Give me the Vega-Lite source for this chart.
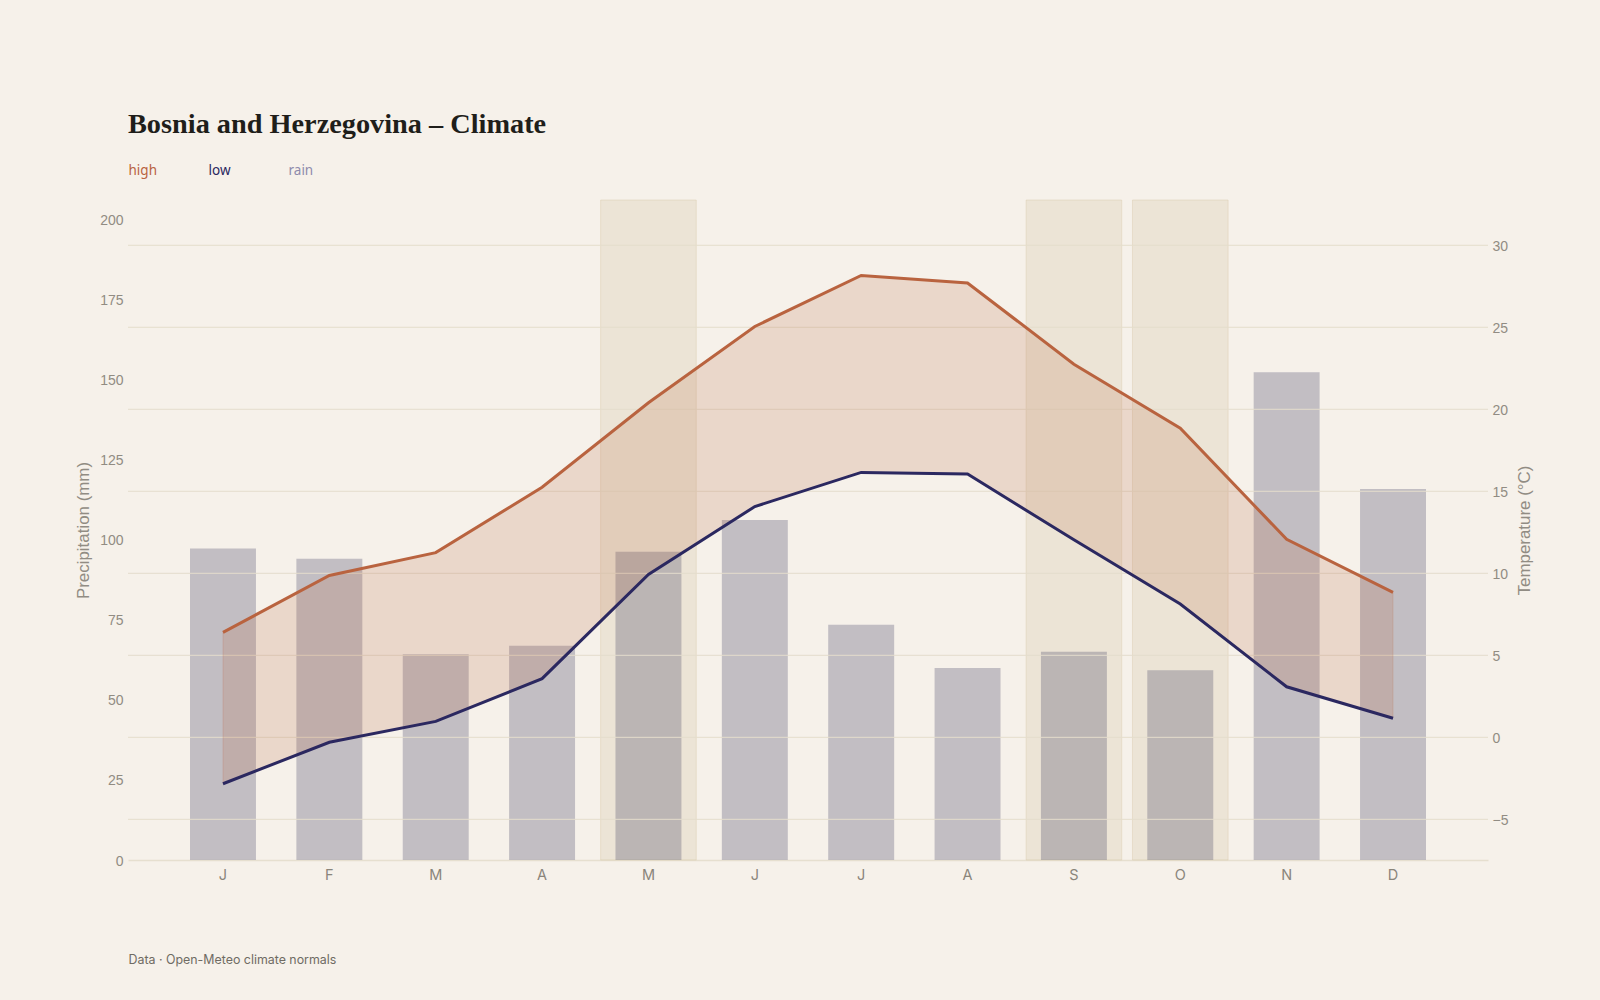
{
  "$schema": "https://vega.github.io/schema/vega-lite/v6.json",
  "width": 1360,
  "height": 660,
  "autosize": {"type": "none"},
  "padding": {"left": 128, "top": 200, "right": 112, "bottom": 140},
  "background": "#f6f1ea",
  "title": {
    "text": "Bosnia and Herzegovina – Climate",
    "anchor": "start",
    "frame": "group",
    "font": "Liberation Serif",
    "fontWeight": "bold",
    "fontSize": 28.3,
    "color": "#1f1e1a",
    "offset": 25
  },
  "config": {
    "view": {"stroke": null},
    "axis": {
      "grid": false,
      "ticks": false,
      "domain": false,
      "titleFontWeight": "normal"
    },
    "axisY": {
      "labelFont": "Liberation Sans",
      "labelFontSize": 14,
      "labelColor": "#918c83",
      "labelOffset": 1,
      "titleFont": "Liberation Sans",
      "titleFontSize": 16.9,
      "titleColor": "#918c83"
    }
  },
  "datasets": {
    "normals": [
      {"month": "Jan", "high": 6.4, "low": -2.83, "rain": 97.2, "shaded": false},
      {"month": "Feb", "high": 9.87, "low": -0.3, "rain": 94, "shaded": false},
      {"month": "Mar", "high": 11.26, "low": 0.97, "rain": 64.2, "shaded": false},
      {"month": "Apr", "high": 15.25, "low": 3.58, "rain": 66.9, "shaded": false},
      {"month": "May", "high": 20.4, "low": 9.93, "rain": 96.2, "shaded": true},
      {"month": "Jun", "high": 25.05, "low": 14.07, "rain": 106.1, "shaded": false},
      {"month": "Jul", "high": 28.16, "low": 16.15, "rain": 73.4, "shaded": false},
      {"month": "Aug", "high": 27.7, "low": 16.05, "rain": 59.9, "shaded": false},
      {"month": "Sep", "high": 22.75, "low": 12.04, "rain": 65, "shaded": true},
      {"month": "Oct", "high": 18.85, "low": 8.13, "rain": 59.2, "shaded": true},
      {"month": "Nov", "high": 12.07, "low": 3.08, "rain": 152.2, "shaded": false},
      {"month": "Dec", "high": 8.84, "low": 1.16, "rain": 115.8, "shaded": false}
    ],
    "gridlines": [
      {"temp": -5}, {"temp": 0}, {"temp": 5}, {"temp": 10},
      {"temp": 15}, {"temp": 20}, {"temp": 25}, {"temp": 30}
    ]
  },
  "data": {"name": "normals"},
  "layer": [
    {
      "encoding": {
        "x": {
          "field": "month",
          "type": "nominal",
          "sort": null,
          "scale": {
            "domain": ["Jan", "Feb", "Mar", "Apr", "May", "Jun", "Jul", "Aug", "Sep", "Oct", "Nov", "Dec"],
            "paddingInner": 0.38,
            "paddingOuter": 0.583
          },
          "axis": {
            "title": "Data · Open-Meteo climate normals",
            "titleAnchor": "start",
            "titleFont": "Inter",
            "titleFontSize": 12.4,
            "titleColor": "#6f6b63",
            "titlePadding": 72,
            "labelExpr": "slice(datum.value, 0, 1)",
            "labelAngle": 0,
            "labelFont": "Inter",
            "labelFontSize": 14.5,
            "labelColor": "#8a857b",
            "labelPadding": 8,
            "domain": true,
            "domainColor": "#e6dfcf",
            "domainWidth": 1.5
          }
        }
      },
      "layer": [
        {
          "transform": [{"filter": "datum.shaded"}],
          "mark": {
            "type": "bar",
            "width": {"band": 1.45},
            "fill": "#d5c6aa",
            "fillOpacity": 0.3,
            "stroke": "#d9c9a8",
            "strokeOpacity": 0.4
          }
        },
        {
          "mark": {"type": "bar", "opacity": 0.25},
          "encoding": {
            "y": {
              "field": "rain",
              "type": "quantitative",
              "scale": {"domain": [0, 206], "nice": false},
              "axis": {
                "title": "Precipitation (mm)",
                "values": [0, 25, 50, 75, 100, 125, 150, 175, 200],
                "labelPadding": 5,
                "titlePadding": 7
              }
            },
            "color": {
              "datum": "rain",
              "scale": {
                "domain": ["high", "low", "rain"],
                "range": ["#b9633f", "#2b2860", "#29294f"]
              },
              "legend": {
                "title": null,
                "orient": "none",
                "legendX": -13,
                "legendY": -36,
                "direction": "horizontal",
                "columns": 3,
                "gridAlign": "all",
                "columnPadding": 38,
                "padding": 0,
                "symbolSize": 0,
                "symbolStrokeWidth": 0,
                "symbolOpacity": 0,
                "labelOffset": 0,
                "labelFont": "Noto Sans",
                "labelFontSize": 13.5,
                "encode": {
                  "labels": {
                    "update": {
                      "fill": {"signal": "datum.value === 'rain' ? '#8e8bac' : scale('color', datum.value)"}
                    }
                  }
                }
              }
            }
          }
        }
      ]
    },
    {
      "layer": [
        {
          "data": {"name": "gridlines"},
          "mark": {"type": "rule", "color": "#e4ddcc", "strokeWidth": 1},
          "encoding": {
            "y": {
              "field": "temp",
              "type": "quantitative",
              "scale": {"domain": [-7.48, 32.76], "nice": false},
              "axis": {
                "title": "Temperature (°C)",
                "titleAngle": 270,
                "values": [-5, 0, 5, 10, 15, 20, 25, 30],
                "labelPadding": 4,
                "titlePadding": 26
              }
            }
          }
        },
        {
          "encoding": {
            "x": {
              "field": "month",
              "type": "nominal",
              "sort": null,
              "scale": {
                "domain": ["Jan", "Feb", "Mar", "Apr", "May", "Jun", "Jul", "Aug", "Sep", "Oct", "Nov", "Dec"],
                "paddingInner": 0.38,
                "paddingOuter": 0.583
              }
            }
          },
          "layer": [
            {
              "mark": {
                "type": "area",
                "fill": "#b9633f",
                "fillOpacity": 0.18,
                "stroke": "#b9633f",
                "strokeOpacity": 0.2
              },
              "encoding": {
                "y": {"field": "high", "type": "quantitative"},
                "y2": {"field": "low"}
              }
            },
            {
              "mark": {"type": "line", "strokeWidth": 3},
              "encoding": {
                "y": {"field": "high", "type": "quantitative"},
                "color": {
                  "datum": "high",
                  "scale": {
                    "domain": ["high", "low", "rain"],
                    "range": ["#b9633f", "#2b2860", "#29294f"]
                  }
                }
              }
            },
            {
              "mark": {"type": "line", "strokeWidth": 3},
              "encoding": {
                "y": {"field": "low", "type": "quantitative"},
                "color": {
                  "datum": "low",
                  "scale": {
                    "domain": ["high", "low", "rain"],
                    "range": ["#b9633f", "#2b2860", "#29294f"]
                  }
                }
              }
            }
          ]
        }
      ]
    }
  ],
  "resolve": {"scale": {"y": "independent"}}
}
